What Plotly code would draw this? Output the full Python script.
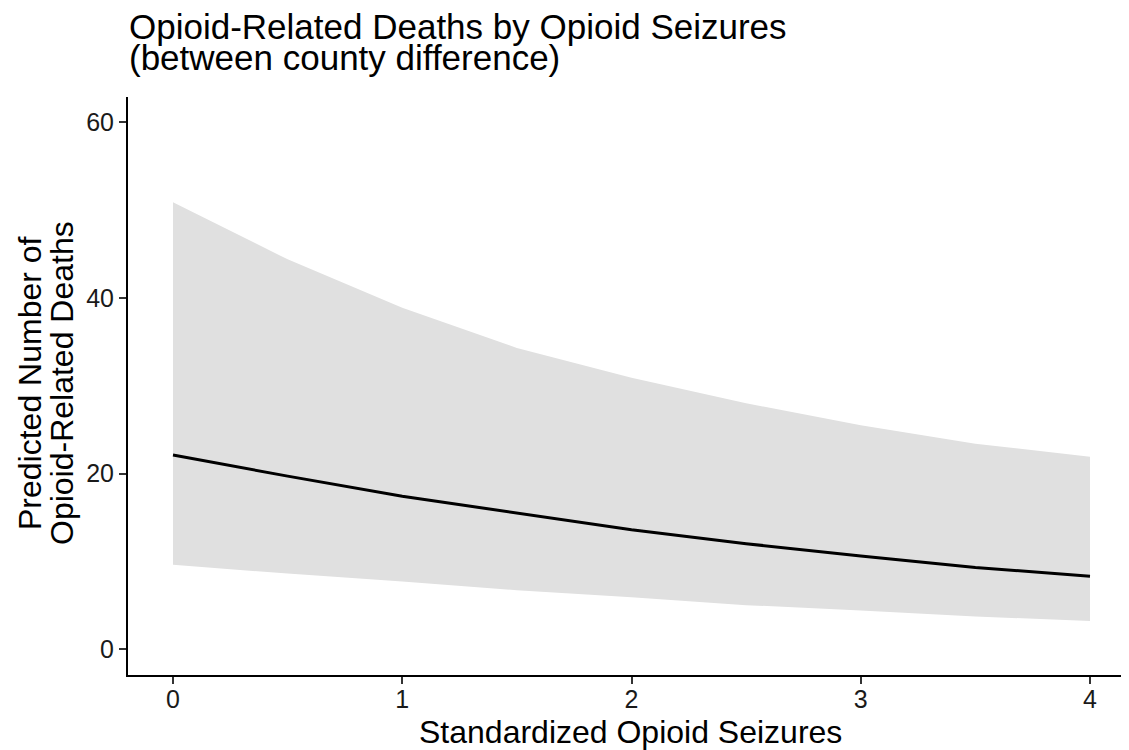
import plotly.graph_objects as go

# Data
seizures = [0, 0.5, 1, 1.5, 2, 2.5, 3, 3.5, 4]
predicted = [22.1, 19.7, 17.4, 15.5, 13.6, 12.0, 10.6, 9.3, 8.3]
upper_ci = [50.9, 44.4, 38.9, 34.3, 30.9, 28.0, 25.5, 23.4, 21.9]
lower_ci = [9.6, 8.6, 7.7, 6.7, 5.9, 5.0, 4.4, 3.7, 3.2]
x_ticks = [0, 1, 2, 3, 4]
y_ticks = [0, 20, 40, 60]

FONT = "Liberation Sans, Arial, sans-serif"

# page body has an 8px margin; the figure is sized to fill the rest of the window
W, H = 1121, 742
ML, MT, MB = 120, 89, 75
PW, PH = W - ML, H - MT - MB


def px_x(p):
    return (p - ML) / PW


def px_y(p):
    return (H - MB - p) / PH


fig = go.Figure()
fig.add_trace(go.Scatter(
    x=seizures + seizures[::-1],
    y=upper_ci + lower_ci[::-1],
    fill="toself", fillcolor="#E0E0E0",
    line=dict(width=0, color="rgba(0,0,0,0)"),
    hoverinfo="skip", showlegend=False, mode="lines",
))
fig.add_trace(go.Scatter(
    x=seizures, y=predicted, mode="lines",
    line=dict(color="black", width=3),
    showlegend=False,
))

axis_common = dict(
    showline=True, linecolor="black", linewidth=2,
    ticks="outside", ticklen=7, tickwidth=2, tickcolor="#333333",
    showgrid=False, zeroline=False,
    tickfont=dict(family=FONT, size=25, color="#1a1a1a"),
)

fig.update_layout(
    width=W, height=H,
    plot_bgcolor="white", paper_bgcolor="white",
    margin=dict(l=ML, r=0, t=MT, b=MB, pad=0),
    title=dict(
        text="Opioid-Related Deaths by Opioid Seizures",
        xref="container", x=121 / W, xanchor="left",
        yref="container", y=1 - 18.5 / H, yanchor="middle",
        font=dict(family=FONT, size=35, color="black"),
    ),
    xaxis=dict(range=[(ML - 165) / 229.25, (W - 165) / 229.25], tickvals=x_ticks,
               ticklabelstandoff=-6, **axis_common),
    yaxis=dict(range=[-2.96, 62.9], tickvals=y_ticks, **axis_common),
    annotations=[
        dict(text="(between county difference)", xref="paper", yref="paper",
             x=px_x(119), y=px_y(50), xanchor="left", yanchor="middle", showarrow=False,
             font=dict(family=FONT, size=35, color="black")),
        dict(text="Standardized Opioid Seizures", xref="paper", yref="paper",
             x=px_x(622), y=px_y(724), xanchor="center", yanchor="middle", showarrow=False,
             font=dict(family=FONT, size=32, color="black")),
        dict(text="Predicted Number of", xref="paper", yref="paper",
             x=px_x(22), y=px_y(375), xanchor="center", yanchor="middle", showarrow=False,
             textangle=-90, font=dict(family=FONT, size=32, color="black")),
        dict(text="Opioid-Related Deaths", xref="paper", yref="paper",
             x=px_x(54), y=px_y(375), xanchor="center", yanchor="middle", showarrow=False,
             textangle=-90, font=dict(family=FONT, size=32, color="black")),
    ],
)

fig.write_html("out.html")
